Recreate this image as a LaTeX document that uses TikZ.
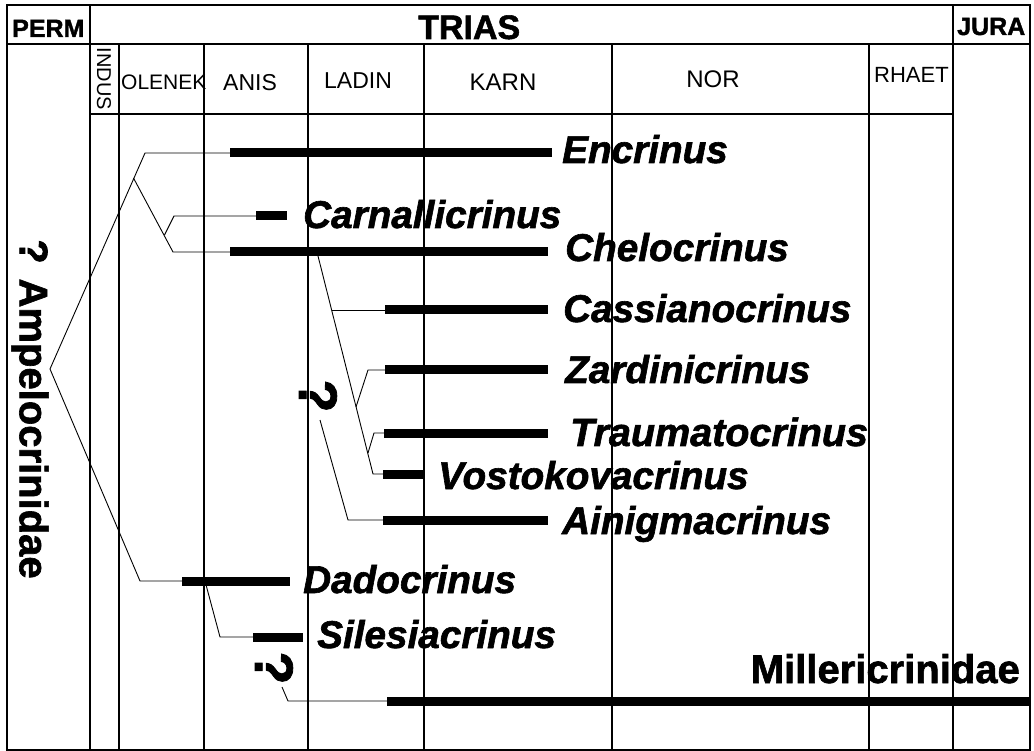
\documentclass[tikz,border=0pt]{standalone}
\usepackage{fontspec}
\setmainfont{Liberation Sans}
\newfontfamily\heavyfont{Liberation Sans Bold}[FakeBold=1.6]
\newfontfamily\heavyitfont{Liberation Sans Bold Italic}[FakeBold=1.6]
\begin{document}
\begin{tikzpicture}[x=1pt,y=-1pt,
  grid/.style={line width=1.1pt},
  bar/.style={line width=9pt},
  link/.style={line width=0.9pt},
  genus/.style={inner sep=0pt, anchor=base west, font=\fontsize{38.7}{40}\heavyitfont},
  stage/.style={inner sep=0pt, anchor=base, font=\fontsize{24}{24}\selectfont},
  period/.style={inner sep=0pt, anchor=base west, font=\fontsize{25}{26}\heavyfont},
  qmark/.style={inner sep=0pt, rotate=-90, font=\fontsize{54}{54}\heavyfont}]
\useasboundingbox (0,0) rectangle (1034,751);
% ---------- grid ----------
\draw[grid] (7,5) rectangle (1030,750);
\draw[grid] (7,44) -- (1030,44);
\draw[grid] (90,114) -- (953,114);
\foreach \x in {90,953} \draw[grid] (\x,5) -- (\x,750);
\foreach \x in {119,204,308,424,612,869} \draw[grid] (\x,44) -- (\x,750);
% ---------- header ----------
\node[period] (perm) at (12,37) {PERM};
\node[period, font=\fontsize{34}{34}\heavyfont] (trias) at (418,39) {TRIAS};
\node[period] (jura) at (957,35) {JURA};
\node[inner sep=0pt, rotate=-90, font=\fontsize{20}{20}\selectfont] (indus) at (104,79) {INDUS};
\node[stage, anchor=base west, font=\fontsize{21}{22}\selectfont] (olenek) at (121,90) {OLENEK};
\node[stage, font=\fontsize{23}{24}\selectfont] (anis) at (250,91) {ANIS};
\node[stage, font=\fontsize{23}{24}\selectfont] (ladin) at (358,89) {LADIN};
\node[stage] (karn) at (503,91) {KARN};
\node[stage] (nor) at (713,88) {NOR};
\node[stage, anchor=base west, font=\fontsize{22}{22}\selectfont] (rhaet) at (874,83) {RHAET};
% ---------- family label ----------
\node[inner sep=0pt, rotate=-90, font=\fontsize{40}{40}\heavyfont] (ampelo) at (30,409) {? Ampelocrinidae};
% ---------- bars ----------
\coordinate (encS) at (230,153);   \coordinate (encE) at (552,153);
\coordinate (carS) at (256,216);   \coordinate (carE) at (287,216);
\coordinate (cheS) at (230,252);   \coordinate (cheE) at (548,252);
\coordinate (casS) at (385,310);   \coordinate (casE) at (548,310);
\coordinate (zarS) at (385,370);   \coordinate (zarE) at (548,370);
\coordinate (traS) at (384,433);   \coordinate (traE) at (548,433);
\coordinate (vosS) at (383,474);   \coordinate (vosE) at (423,474);
\coordinate (ainS) at (383,520);   \coordinate (ainE) at (548,520);
\coordinate (dadS) at (182,581);   \coordinate (dadE) at (290,581);
\coordinate (silS) at (253,637);   \coordinate (silE) at (303,637);
\coordinate (milS) at (387,701);   \coordinate (milE) at (1031,701);
\foreach \b in {enc,car,che,cas,zar,tra,vos,ain,dad,sil,mil}
  \draw[bar] (\b S) -- (\b E);
% ---------- labels ----------
\node[genus] (encL) at (562,163) {Encrinus};
\node[genus] (carL) at (303,228) {Carnallicrinus};
\node[genus] (cheL) at (565,261) {Chelocrinus};
\node[genus] (casL) at (563,322) {Cassianocrinus};
\node[genus] (zarL) at (565,383) {Zardinicrinus};
\node[genus, font=\fontsize{39.5}{40}\heavyitfont] (traL) at (570,446) {Traumatocrinus};
\node[genus] (vosL) at (438,489) {Vostokovacrinus};
\node[genus] (ainL) at (562,534) {Ainigmacrinus};
\node[genus] (dadL) at (303,593) {Dadocrinus};
\node[genus] (silL) at (317,648) {Silesiacrinus};
\node[inner sep=0pt, anchor=base east, font=\fontsize{40}{40}\heavyfont] (milL) at (1020,683) {Millericrinidae};
% ---------- question marks ----------
\node[qmark] (q1) at (318,396) {?};
\node[qmark] (q2) at (274,668) {?};
% ---------- tree ----------
\coordinate (root) at (50,369);
\coordinate (encC) at (145,153);
\coordinate (b1) at (133.5,178);
\coordinate (cheC) at (173,252);
\coordinate (b2) at (164.5,235);
\coordinate (carC) at (174,216);
\coordinate (dadC) at (140,581);
\coordinate (b3) at (205,581);
\coordinate (silC) at (220,637);
\coordinate (q2E) at (282,687);
\coordinate (milC) at (288,701);
\coordinate (b4) at (317,252);
\coordinate (vosC) at (373,474);
\coordinate (b5) at (332,310);
\coordinate (b6) at (356,407);
\coordinate (zarC) at (368,370);
\coordinate (b7) at (368,453);
\coordinate (traC) at (374,433);
\coordinate (q1E) at (320,420);
\coordinate (ainC) at (348,520);
\draw[link] (root) -- (encC) -- (encS);
\draw[link] (b1) -- (cheC) -- (cheS);
\draw[link] (b2) -- (carC) -- (carS);
\draw[link] (root) -- (dadC) -- (dadS);
\draw[link] (b3) -- (silC) -- (silS);
\draw[link] (q2E) -- (milC) -- (milS);
\draw[link] (b4) -- (vosC) -- (vosS);
\draw[link] (b5) -- (casS);
\draw[link] (b6) -- (zarC) -- (zarS);
\draw[link] (b7) -- (traC) -- (traS);
\draw[link] (q1E) -- (ainC) -- (ainS);
\end{tikzpicture}
\end{document}
